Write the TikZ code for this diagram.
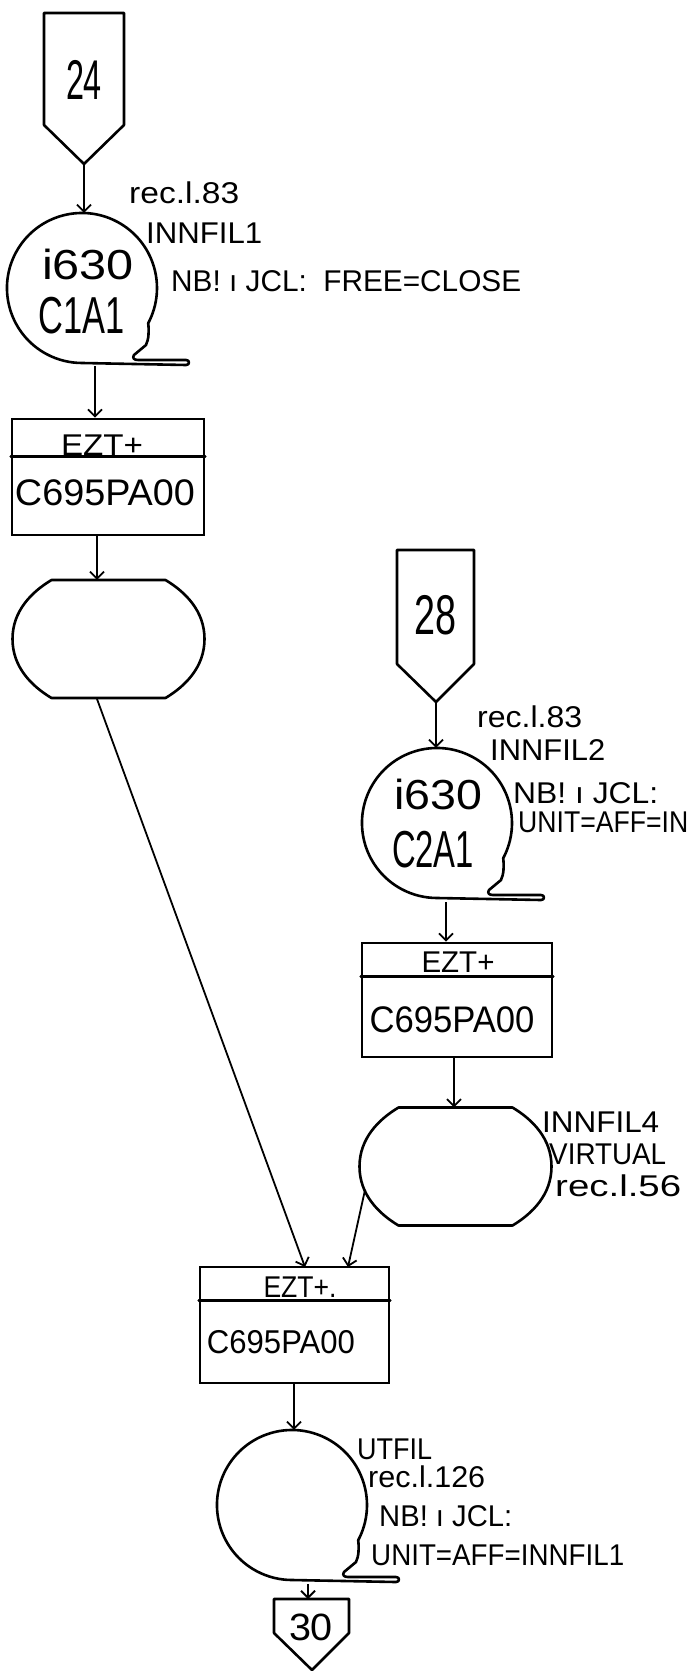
\documentclass[tikz,border=0pt]{standalone}
\usepackage{fontspec}
\setmainfont{Liberation Sans}
\usetikzlibrary{arrows.meta,calc}
\newcommand{\fitw}[2]{\resizebox{#1pt}{\height}{#2}}
\tikzset{
  shp/.style={line width=2.6pt, line join=round, line cap=round},
  conn/.style={line width=1.8pt, -{Straight Barb[length=7pt,width=14pt,line width=1.8pt]}},
  tapec/.style={circle, draw=none, minimum size=150pt, inner sep=0pt},
  procbox/.style={rectangle, draw, line width=2.6pt, inner sep=0pt},
  ghost/.style={draw=none, inner sep=0pt},
  ann/.style={anchor=west, inner sep=0pt, font=\fontsize{30}{32}\selectfont},
  digits/.style={inner sep=0pt, font=\fontsize{56}{58}\selectfont},
  itxt/.style={inner sep=0pt, font=\fontsize{42}{44}\selectfont},
  ctxt/.style={inner sep=0pt, font=\fontsize{52}{54}\selectfont},
  boxtop/.style={inner sep=0pt, font=\fontsize{30}{32}\selectfont},
  boxname/.style={inner sep=0pt, font=\fontsize{37}{39}\selectfont},
  pics/tape/.style={code={
    \draw[shp] (66.2,35.2) arc[start angle=28, end angle=-270, radius=75]
      -- (104,77) .. controls (108,77) and (108,72) .. (104,72)
      -- (56,72) .. controls (52,72) and (50,70) .. (52,67)
      -- (64,57) .. controls (67,51) and (67,42) .. (66.2,35.2);
  }},
  pics/drum/.style={code={
    \draw[shp] (-57,-59) -- (57,-59) .. controls (77,-47) and (96,-28) .. (96,0)
      .. controls (96,28) and (77,47) .. (57,59) -- (-57,59)
      .. controls (-77,47) and (-96,28) .. (-96,0)
      .. controls (-96,-28) and (-77,-47) .. (-57,-59) -- cycle;
  }},
}
\begin{document}
\begin{tikzpicture}[x=1pt,y=-1pt]
\useasboundingbox (0,0) rectangle (691,1672);
\clip (0,0) rectangle (691,1672);

% ---------- off-page 24 ----------
\draw[shp] (44,13) -- (124,13) -- (124,125) -- (84,164) -- (44,125) -- cycle;
\node[digits] (n24) at (84,80) {\fitw{36}{24}};
\coordinate (n24tip) at (84,164);

% ---------- tape C1A1 ----------
\node[tapec] (c1) at (82,288) {};
\pic at (c1) {tape};
\node[itxt] (c1a) at (88,264) {\fitw{92}{i630}};
\node[ctxt] (c1b) at (82,316) {\fitw{86}{C1A1}};
\node[ann] (c1l1) at (129,193) {\fitw{110}{rec.l.83}};
\node[ann] (c1l2) at (146,233) {\fitw{116}{INNFIL1}};
\node[ann] (c1l3) at (171,281) {\fitw{350}{NB!\ ı\ JCL:\ \ FREE=CLOSE}};
\coordinate (c1out) at (95,366);

% ---------- box 1 ----------
\node[procbox, minimum width=192pt, minimum height=116pt] (b1) at (108,477) {};
\draw[shp] ([yshift=-39pt]b1.north west) -- ([yshift=-39pt]b1.north east);
\node[boxtop] (b1t) at (102,445) {\fitw{82}{EZT+}};
\node[boxname] (b1n) at (105,493) {\fitw{180}{C695PA00}};
\coordinate (b1out) at (97,535);

% ---------- store 1 ----------
\node[ghost, minimum width=192pt, minimum height=118pt] (s1) at (108.5,639) {};
\pic at (s1) {drum};
\coordinate (s1out) at (97,699);

% ---------- off-page 28 ----------
\draw[shp] (397,550) -- (474,550) -- (474,664) -- (436,702) -- (397,664) -- cycle;
\node[digits] (n28) at (435,615) {\fitw{42}{28}};
\coordinate (n28tip) at (436,702);

% ---------- tape C2A1 ----------
\node[tapec] (c2) at (437,823) {};
\pic at (c2) {tape};
\node[itxt] (c2a) at (438,794) {\fitw{88}{i630}};
\node[ctxt] (c2b) at (433,850) {\fitw{82}{C2A1}};
\node[ann] (c2l1) at (477,717) {\fitw{105}{rec.l.83}};
\node[ann] (c2l2) at (490,750) {\fitw{115}{INNFIL2}};
\node[ann] (c2l3) at (513,793) {\fitw{145}{NB!\ ı\ JCL:}};
\node[ann] (c2l4) at (518,822) {\fitw{170}{UNIT=AFF=IN}};
\coordinate (c2out) at (446,902);

% ---------- box 2 ----------
\node[procbox, minimum width=190pt, minimum height=114pt] (b2) at (457,1000) {};
\draw[shp] ([yshift=-35pt]b2.north west) -- ([yshift=-35pt]b2.north east);
\node[boxtop] (b2t) at (458,962) {\fitw{73}{EZT+}};
\node[boxname] (b2n) at (452,1020) {\fitw{165}{C695PA00}};
\coordinate (b2out) at (454,1057);

% ---------- store 2 ----------
\node[ghost, minimum width=192pt, minimum height=118pt] (s2) at (455.5,1166.5) {};
\pic at (s2) {drum};
\node[ann] (s2l1) at (542,1122) {\fitw{117}{INNFIL4}};
\node[ann] (s2l2) at (549,1154) {\fitw{117}{VIRTUAL}};
\node[ann] (s2l3) at (555,1186) {\fitw{126}{rec.l.56}};
\coordinate (s2out) at (365,1190);

% ---------- box 3 ----------
\node[procbox, minimum width=189pt, minimum height=116pt] (b3) at (294.5,1325) {};
\draw[shp] ([yshift=-35pt]b3.north west) -- ([yshift=-35pt]b3.north east);
\node[boxtop] (b3t) at (300,1287) {\fitw{73}{EZT+.}};
\node[boxname, font=\fontsize{33}{35}\selectfont] (b3n) at (281,1342) {\fitw{148}{C695PA00}};
\coordinate (b3in1) at (305,1267);
\coordinate (b3in2) at (348,1267);
\coordinate (b3out) at (294,1383);

% ---------- tape UTFIL ----------
\node[tapec] (c3) at (292,1505) {};
\pic at (c3) {tape};
\node[ann] (c3l1) at (357,1449) {\fitw{75}{UTFIL}};
\node[ann] (c3l2) at (368,1477) {\fitw{117}{rec.l.126}};
\node[ann] (c3l3) at (379,1516) {\fitw{133}{NB!\ ı\ JCL:}};
\node[ann] (c3l4) at (371,1555) {\fitw{253}{UNIT=AFF=INNFIL1}};
\coordinate (c3out) at (308,1584);

% ---------- off-page 30 ----------
\draw[shp] (274,1599) -- (349,1599) -- (349,1633) -- (312,1670) -- (274,1633) -- cycle;
\node[inner sep=0pt, font=\fontsize{38}{40}\selectfont] (n30) at (311,1627) {\fitw{44}{30}};
\coordinate (n30top) at (308,1599);

% ---------- connectors ----------
\draw[conn] (n24tip) -- (n24tip |- c1.north);
\draw[conn] (c1out) -- (c1out |- b1.north);
\draw[conn] (b1out) -- (b1out |- s1.north);
\draw[conn] (s1out) -- (b3in1);
\draw[conn] (n28tip) -- (n28tip |- c2.north);
\draw[conn] (c2out) -- (c2out |- b2.north);
\draw[conn] (b2out) -- (b2out |- s2.north);
\draw[conn] (s2out) -- (b3in2);
\draw[conn] (b3out) -- (b3out |- c3.north);
\draw[conn] (c3out) -- (n30top);
\end{tikzpicture}
\end{document}
